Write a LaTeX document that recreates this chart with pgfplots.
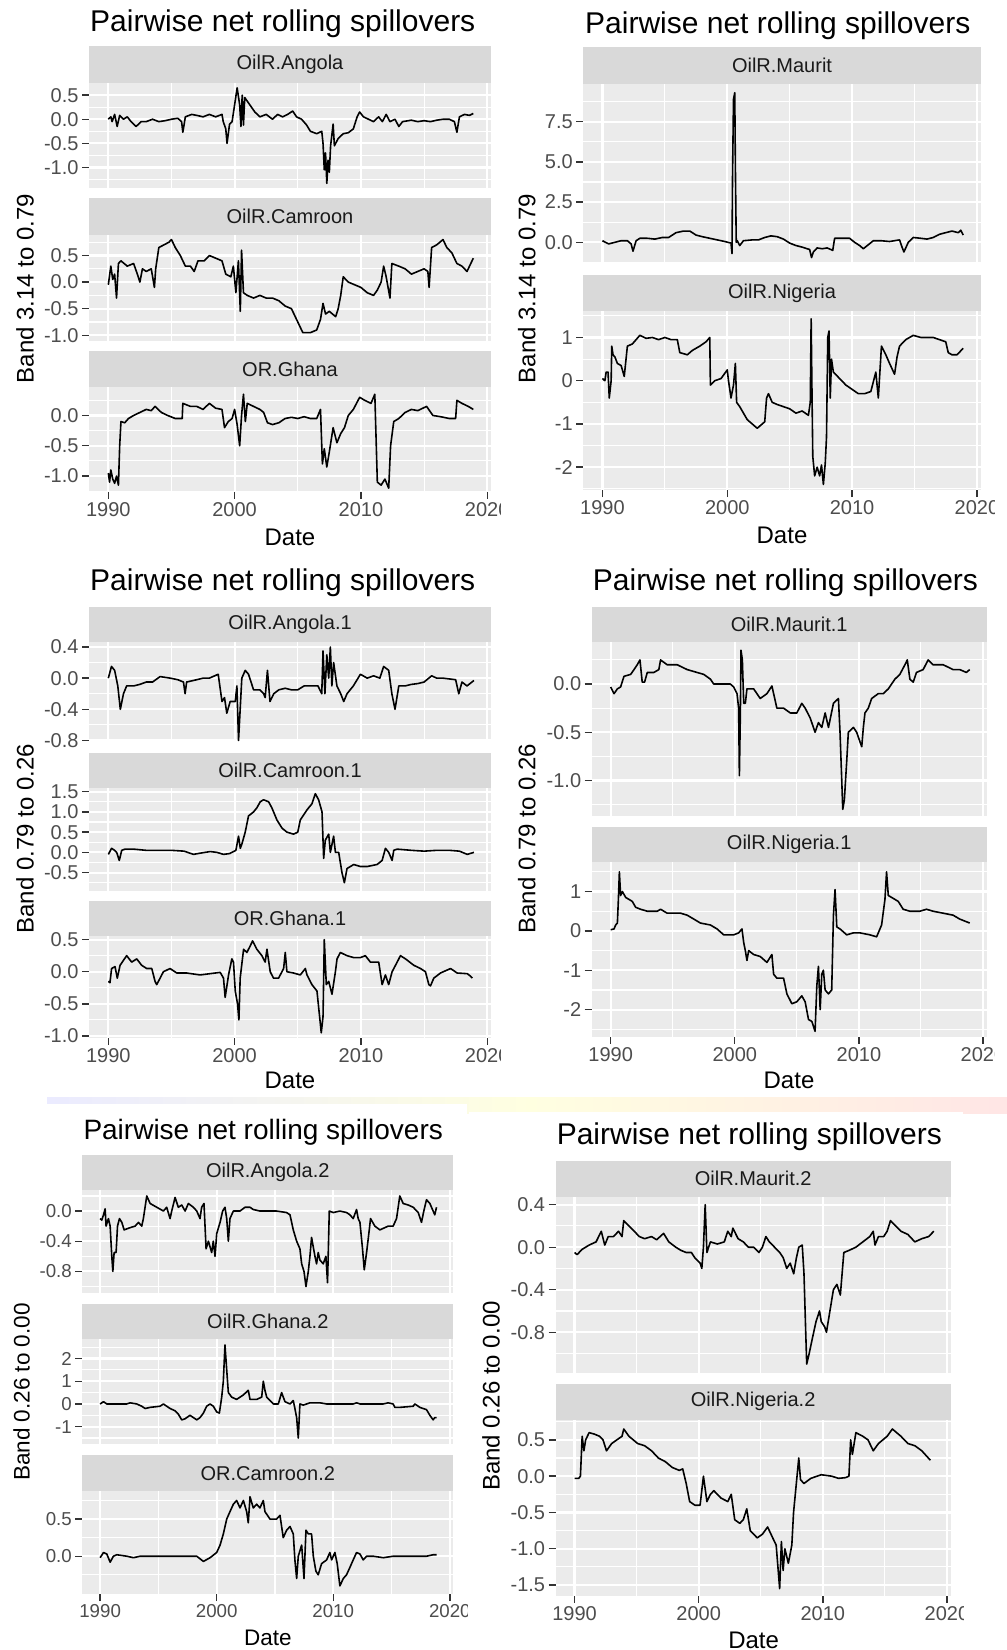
\documentclass[border=0pt]{standalone}
\usepackage{pgfplots}
\pgfplotsset{compat=1.18}
\usetikzlibrary{calc}
\usepackage{fontspec}
\setmainfont{Liberation Sans}

\definecolor{panelbg}{HTML}{EBEBEB}
\definecolor{stripbg}{HTML}{D9D9D9}
\definecolor{stripfg}{HTML}{1A1A1A}
\definecolor{tickgray}{HTML}{4D4D4D}
\definecolor{tickline}{HTML}{333333}

\newcommand{\tickfont}{\fontsize{20}{24}\selectfont}
\newcommand{\stripfont}{\fontsize{20}{24}\selectfont}
\newcommand{\labfont}{\fontsize{24}{28}\selectfont}
\newcommand{\titlefont}{\fontsize{30}{36}\selectfont}
\newcommand{\tickfontE}{\fontsize{18.7}{22}\selectfont}

% grey facet strip with its label
\newcommand{\strip}[5]{%
  \fill[stripbg] (#1pt,-#2pt) rectangle (#3pt,-#4pt);
  \node[font=\stripfont, text=stripfg, inner sep=0pt] at ($(#1pt,-#2pt)!0.5!(#3pt,-#4pt)$) {#5};}

\pgfplotsset{
  facet/.style={
    scale only axis, anchor=south west,
    xmin=1988.47, xmax=2020.3,
    axis background/.style={fill=panelbg},
    axis line style={draw=none},
    grid=both,
    major grid style={draw=white, line width=2.2pt},
    minor grid style={draw=white, line width=1.1pt},
    xtick={1990,2000,2010,2020},
    minor xtick={1995,2005,2015},
    tick align=outside,
    xtick pos=left, ytick pos=left,
    major tick length=7pt, minor tick length=0pt,
    tick style={draw=tickline, line width=1.4pt},
    yticklabel style={font=\tickfont, text=tickgray},
    xticklabel style={font=\tickfont, text=tickgray},
    xticklabels={},
    xtick style={draw=none},
  },
  bottomfacet/.style={
    xticklabels={1990,2000,2010,2020},
    xtick style={draw=tickline, line width=1.4pt},
  },
  ser/.style={black, line width=1.6pt, mark=none, line join=round},
}

\begin{document}
\begin{tikzpicture}
\path[use as bounding box, fill=white] (0pt,0pt) rectangle (1007pt,-1650pt);

% faint backdrop behind the lower screenshots
\shade[left color=blue!8!white, right color=red!10!white, middle color=yellow!12!white]
  (47pt,-1097pt) rectangle (1007pt,-1113pt);
\fill[white] (47pt,-1104pt) rectangle (467pt,-1650pt);
\fill[white] (469pt,-1112pt) rectangle (963pt,-1650pt);

% ---------------- top left ----------------
\begin{scope}
\clip (0pt,0pt) rectangle (500pt,-545pt);
\node[anchor=base west, font=\titlefont, inner sep=0pt] at (90pt,-31pt) {Pairwise net rolling spillovers};
\strip{89}{46}{491}{83.4}{OilR.Angola}
\strip{89}{198}{491}{234.6}{OilR.Camroon}
\strip{89}{351}{491}{387}{OR.Ghana}
\node[rotate=90, font=\labfont, inner sep=0pt] at (25pt,-288.5pt) {Band 3.14 to 0.79};
\node[font=\labfont, inner sep=0pt] at (290pt,-537pt) {Date};

\begin{axis}[facet, at={(89pt,-187.7pt)}, width=402pt, height=104.3pt,
  ymin=-1.42, ymax=0.743, ytick={-1,-0.5,0,0.5}, yticklabels={-1.0,-0.5,0.0,0.5},
  minor ytick={-1.25,-0.75,-0.25,0.25}]
\addplot[ser] coordinates {
(1990.0,0.0) (1990.2,0.05) (1990.3,-0.05) (1990.5,0.1) (1990.7,-0.15) (1990.9,0.08)
(1991.2,0.0) (1991.5,0.05) (1991.8,-0.05) (1992.2,-0.15) (1992.6,-0.05) (1993.0,-0.05)
(1993.5,0.0) (1994.0,-0.05) (1994.5,-0.03) (1995.0,0.0) (1995.5,0.02) (1995.8,-0.05)
(1995.9,-0.27) (1996.1,0.05) (1996.6,0.1) (1997.0,0.08) (1997.5,0.05) (1998.0,0.1)
(1998.5,0.05) (1999.0,0.1) (1999.1,-0.05) (1999.3,-0.2) (1999.4,-0.5) (1999.6,-0.1)
(1999.8,-0.05) (2000.0,0.3) (2000.2,0.65) (2000.4,0.3) (2000.5,-0.15) (2000.6,0.5)
(2000.7,-0.12) (2000.8,0.45) (2001.2,0.3) (2001.6,0.15) (2002.0,0.05) (2002.5,0.1)
(2003.0,0.0) (2003.4,0.1) (2003.8,0.05) (2004.2,0.1) (2004.6,0.17) (2004.9,0.05)
(2005.3,0.0) (2005.7,-0.12) (2006.0,-0.25) (2006.5,-0.3) (2006.9,-0.25) (2007.0,-0.5)
(2007.1,-1.05) (2007.2,-0.7) (2007.3,-1.33) (2007.4,-0.85) (2007.5,-1.1) (2007.6,-0.55)
(2007.8,-0.1) (2007.9,-0.55) (2008.2,-0.4) (2008.6,-0.3) (2009.0,-0.28) (2009.4,-0.2)
(2009.7,0.05) (2009.9,0.15) (2010.2,0.05) (2010.6,0.0) (2011.0,-0.05) (2011.4,0.05)
(2011.7,-0.05) (2012.0,0.1) (2012.3,-0.05) (2012.7,0.0) (2013.0,-0.15) (2013.3,-0.05)
(2014.0,-0.02) (2014.5,-0.05) (2015.0,-0.03) (2015.5,-0.05) (2016.0,-0.02) (2016.5,0.0)
(2017.0,0.0) (2017.4,-0.05) (2017.6,-0.27) (2017.8,0.05) (2018.2,0.1) (2018.6,0.08) (2018.9,0.12)
};
\end{axis}

\begin{axis}[facet, at={(89pt,-340.6pt)}, width=402pt, height=106pt,
  ymin=-1.1, ymax=0.893, ytick={-1,-0.5,0,0.5}, yticklabels={-1.0,-0.5,0.0,0.5},
  minor ytick={-0.75,-0.25,0.25,0.75}]
\addplot[ser] coordinates {
(1990.0,-0.05) (1990.2,0.3) (1990.35,0.05) (1990.5,0.15) (1990.65,-0.3) (1990.8,0.35)
(1991.0,0.4) (1991.5,0.3) (1992.0,0.35) (1992.3,0.15) (1992.5,0.0) (1992.7,0.25)
(1993.0,0.2) (1993.4,0.25) (1993.65,-0.1) (1993.75,0.25) (1994.0,0.65) (1994.4,0.7)
(1994.8,0.75) (1995.0,0.8) (1995.3,0.65) (1995.7,0.5) (1996.1,0.3) (1996.5,0.3)
(1996.8,0.2) (1997.1,0.4) (1997.6,0.4) (1998.0,0.5) (1998.5,0.45) (1999.0,0.4)
(1999.3,0.15) (1999.7,0.1) (1999.9,0.3) (2000.1,-0.2) (2000.3,0.4) (2000.45,-0.55)
(2000.55,0.6) (2000.7,-0.2) (2001.0,-0.25) (2001.5,-0.3) (2002.0,-0.25) (2002.5,-0.3)
(2003.0,-0.3) (2003.5,-0.35) (2004.0,-0.45) (2004.5,-0.5) (2004.8,-0.65) (2005.1,-0.8)
(2005.4,-0.95) (2006.0,-0.95) (2006.5,-0.9) (2006.8,-0.7) (2007.0,-0.4) (2007.2,-0.6)
(2007.5,-0.55) (2008.0,-0.65) (2008.2,-0.5) (2008.4,-0.25) (2008.6,0.1) (2009.0,0.0)
(2009.5,-0.05) (2010.0,-0.1) (2010.5,-0.2) (2011.0,-0.25) (2011.3,-0.15) (2011.6,0.0)
(2011.8,0.3) (2012.0,0.1) (2012.3,-0.3) (2012.45,0.35) (2013.0,0.3) (2013.5,0.25)
(2014.0,0.15) (2014.5,0.2) (2015.0,0.25) (2015.3,0.2) (2015.4,-0.1) (2015.6,0.65)
(2016.0,0.7) (2016.5,0.8) (2016.8,0.65) (2017.2,0.55) (2017.6,0.35) (2018.0,0.3)
(2018.4,0.2) (2018.9,0.45)
};
\end{axis}

\begin{axis}[facet, bottomfacet, at={(89pt,-491.8pt)}, width=402pt, height=104.8pt,
  ymin=-1.26, ymax=0.47, ytick={-1,-0.5,0}, yticklabels={-1.0,-0.5,0.0},
  minor ytick={-1.25,-0.75,-0.25,0.25}]
\addplot[ser] coordinates {
(1990.0,-0.95) (1990.1,-1.1) (1990.2,-0.9) (1990.35,-1.05) (1990.5,-1.12) (1990.65,-1.0)
(1990.8,-1.15) (1990.9,-0.5) (1991.0,-0.1) (1991.3,-0.12) (1991.6,-0.05) (1992.0,0.0)
(1992.5,0.05) (1993.0,0.1) (1993.4,0.08) (1993.7,0.15) (1994.2,0.05) (1994.7,0.0)
(1995.3,-0.05) (1995.85,-0.05) (1995.9,0.2) (1996.5,0.15) (1997.0,0.15) (1997.5,0.1)
(1998.0,0.2) (1998.5,0.12) (1999.0,0.1) (1999.2,-0.2) (1999.5,-0.1) (1999.8,-0.05)
(2000.0,0.1) (2000.2,-0.15) (2000.4,-0.5) (2000.55,0.0) (2000.7,0.35) (2000.85,-0.1)
(2001.0,0.2) (2001.5,0.15) (2002.0,0.1) (2002.3,0.05) (2002.6,-0.12) (2003.0,-0.15)
(2003.5,-0.12) (2004.0,-0.05) (2004.5,-0.03) (2005.0,-0.05) (2005.5,-0.02) (2006.0,-0.05)
(2006.5,-0.05) (2006.8,0.1) (2006.95,-0.8) (2007.1,-0.55) (2007.3,-0.85) (2007.5,-0.6)
(2007.8,-0.2) (2008.1,-0.45) (2008.4,-0.3) (2008.7,-0.2) (2009.0,0.0) (2009.4,0.1)
(2009.9,0.3) (2010.3,0.25) (2010.8,0.2) (2011.1,0.35) (2011.3,-1.1) (2011.6,-1.15)
(2011.9,-1.05) (2012.2,-1.2) (2012.35,-0.5) (2012.6,-0.1) (2013.0,-0.05) (2013.5,0.05)
(2014.0,0.1) (2014.5,0.08) (2015.2,0.15) (2015.7,0.0) (2016.3,-0.02) (2017.0,-0.05)
(2017.5,-0.05) (2017.6,0.25) (2018.0,0.2) (2018.5,0.15) (2018.9,0.1)
};
\end{axis}
\end{scope}

% ---------------- top right ----------------
\begin{scope}
\clip (500pt,0pt) rectangle (994pt,-545pt);
\node[anchor=base west, font=\titlefont, inner sep=0pt] at (585pt,-33pt) {Pairwise net rolling spillovers};
\strip{583.3}{46.9}{980.7}{84.1}{OilR.Maurit}
\strip{583.3}{274.6}{980.7}{311.1}{OilR.Nigeria}
\node[rotate=90, font=\labfont, inner sep=0pt] at (526.7pt,-288.5pt) {Band 3.14 to 0.79};
\node[font=\labfont, inner sep=0pt] at (782pt,-535pt) {Date};

\begin{axis}[facet, at={(583.3pt,-262.4pt)}, width=397.4pt, height=178.3pt,
  ymin=-1.25, ymax=9.84, ytick={0,2.5,5,7.5}, yticklabels={0.0,2.5,5.0,7.5},
  minor ytick={1.25,3.75,6.25,8.75}]
\addplot[ser] coordinates {
(1990.0,0.1) (1990.5,-0.1) (1991.0,0.0) (1991.5,0.1) (1992.0,0.1) (1992.3,-0.1)
(1992.45,-0.55) (1992.7,0.1) (1993.0,0.25) (1993.6,0.25) (1994.2,0.2) (1994.8,0.3)
(1995.3,0.3) (1995.9,0.6) (1996.5,0.7) (1997.0,0.7) (1997.5,0.45) (1998.0,0.35)
(1998.6,0.25) (1999.2,0.15) (1999.8,0.05) (2000.3,-0.05) (2000.38,-0.7) (2000.42,3.9)
(2000.5,8.9) (2000.6,9.3) (2000.66,4.0) (2000.72,0.0) (2000.8,0.1) (2001.0,-0.2)
(2001.3,0.1) (2002.0,0.15) (2002.5,0.15) (2003.0,0.3) (2003.5,0.4) (2004.0,0.35)
(2004.5,0.2) (2005.0,-0.05) (2005.5,-0.2) (2006.0,-0.3) (2006.6,-0.45) (2006.75,-0.95)
(2006.9,-0.6) (2007.2,-0.35) (2007.6,-0.4) (2008.0,-0.35) (2008.45,-0.5) (2008.6,0.25)
(2009.2,0.25) (2009.8,0.25) (2010.2,0.0) (2010.6,-0.2) (2010.9,-0.4) (2011.3,-0.15)
(2011.7,0.1) (2012.3,0.1) (2013.0,0.05) (2013.8,0.15) (2014.0,-0.3) (2014.15,-0.6)
(2014.5,0.0) (2014.9,0.3) (2015.5,0.25) (2016.0,0.2) (2016.5,0.3) (2017.0,0.5)
(2017.5,0.6) (2018.0,0.7) (2018.5,0.6) (2018.7,0.75) (2018.9,0.45)
};
\end{axis}

\begin{axis}[facet, bottomfacet, at={(583.3pt,-490.1pt)}, width=397.4pt, height=179pt,
  ymin=-2.53, ymax=1.61, ytick={-2,-1,0,1}, yticklabels={-2,-1,0,1},
  minor ytick={-2.5,-1.5,-0.5,0.5,1.5}]
\addplot[ser] coordinates {
(1990.0,0.05) (1990.2,0.0) (1990.3,0.2) (1990.45,0.2) (1990.55,-0.4) (1990.7,0.0)
(1990.75,0.8) (1990.85,0.6) (1991.0,0.55) (1991.2,0.4) (1991.5,0.35) (1991.75,0.1)
(1992.0,0.8) (1992.4,0.85) (1992.7,0.95) (1993.0,1.05) (1993.5,0.98) (1994.0,1.0)
(1994.5,0.95) (1995.0,1.0) (1995.5,0.95) (1996.0,0.95) (1996.2,0.65) (1996.8,0.6)
(1997.2,0.7) (1997.8,0.8) (1998.3,0.9) (1998.6,1.0) (1998.65,-0.1) (1999.0,0.0)
(1999.5,0.05) (2000.0,0.25) (2000.1,0.0) (2000.3,-0.4) (2000.5,-0.1) (2000.65,0.4)
(2000.75,-0.5) (2001.0,-0.6) (2001.3,-0.75) (2001.6,-0.9) (2002.0,-1.0) (2002.4,-1.1)
(2002.8,-1.0) (2003.0,-0.95) (2003.15,-0.4) (2003.3,-0.3) (2003.6,-0.5) (2004.0,-0.55)
(2004.5,-0.6) (2005.0,-0.65) (2005.5,-0.75) (2006.0,-0.7) (2006.5,-0.8) (2006.65,-0.5)
(2006.72,1.43) (2006.78,-0.1) (2006.85,-1.75) (2007.0,-2.2) (2007.2,-2.0) (2007.4,-2.2)
(2007.55,-1.95) (2007.7,-2.4) (2007.85,-1.9) (2007.95,-1.3) (2008.05,1.0) (2008.15,1.15)
(2008.25,-0.4) (2008.35,0.5) (2008.5,0.2) (2009.0,0.05) (2009.5,-0.1) (2010.0,-0.2)
(2010.5,-0.3) (2011.0,-0.3) (2011.5,-0.25) (2011.9,0.2) (2012.1,-0.4) (2012.35,0.8)
(2012.7,0.6) (2013.0,0.4) (2013.4,0.15) (2013.6,0.55) (2013.8,0.8) (2014.3,0.95)
(2014.9,1.05) (2015.5,1.0) (2016.0,1.0) (2016.5,1.0) (2017.0,0.95) (2017.5,0.9)
(2017.7,0.65) (2018.0,0.6) (2018.4,0.6) (2018.9,0.75)
};
\end{axis}
\end{scope}

% ---------------- middle left ----------------
\begin{scope}
\clip (0pt,-545pt) rectangle (500pt,-1095pt);
\node[anchor=base west, font=\titlefont, inner sep=0pt] at (90pt,-590pt) {Pairwise net rolling spillovers};
\strip{89}{606.9}{491}{641.6}{OilR.Angola.1}
\strip{89}{752.5}{491}{787.6}{OilR.Camroon.1}
\strip{89}{901.3}{491}{936}{OR.Ghana.1}
\node[rotate=90, font=\labfont, inner sep=0pt] at (25pt,-838.7pt) {Band 0.79 to 0.26};
\node[font=\labfont, inner sep=0pt] at (290pt,-1080pt) {Date};

\begin{axis}[facet, at={(89pt,-742.4pt)}, width=402pt, height=100.8pt,
  ymin=-0.825, ymax=0.469, ytick={-0.8,-0.4,0,0.4}, yticklabels={-0.8,-0.4,0.0,0.4},
  minor ytick={-0.6,-0.2,0.2}]
\addplot[ser] coordinates {
(1990.0,0.0) (1990.25,0.15) (1990.5,0.1) (1990.75,-0.1) (1990.95,-0.4) (1991.2,-0.2)
(1991.45,-0.1) (1992.0,-0.1) (1992.5,-0.08) (1993.0,-0.05) (1993.5,-0.05) (1994.1,0.02)
(1994.9,0.0) (1995.5,-0.02) (1995.95,-0.05) (1996.08,-0.2) (1996.2,-0.05) (1997.0,-0.02)
(1997.5,0.0) (1998.0,0.0) (1998.7,0.05) (1999.0,-0.3) (1999.2,-0.25) (1999.38,-0.45)
(1999.65,-0.3) (2000.05,-0.3) (2000.18,-0.1) (2000.31,-0.8) (2000.44,-0.4) (2000.57,0.0)
(2000.84,0.1) (2001.1,0.05) (2001.5,-0.15) (2002.0,-0.15) (2002.3,-0.2) (2002.42,-0.25)
(2002.6,0.1) (2002.8,-0.3) (2003.1,-0.2) (2003.5,-0.15) (2004.0,-0.13) (2004.5,-0.15)
(2005.0,-0.15) (2005.5,-0.1) (2006.0,-0.1) (2006.6,-0.1) (2006.9,-0.2) (2007.0,0.35)
(2007.15,-0.2) (2007.3,0.3) (2007.45,0.0) (2007.58,0.4) (2007.7,-0.1) (2007.84,0.2)
(2008.1,-0.1) (2008.4,-0.2) (2008.64,-0.3) (2008.9,-0.2) (2009.4,-0.1) (2009.96,0.05)
(2010.5,0.0) (2011.0,0.03) (2011.5,0.0) (2011.8,0.15) (2012.2,0.1) (2012.45,-0.2)
(2012.7,-0.4) (2013.0,-0.1) (2013.5,-0.1) (2014.0,-0.08) (2014.5,-0.07) (2015.0,-0.05)
(2015.6,0.03) (2016.0,0.0) (2016.5,0.0) (2017.0,-0.01) (2017.5,-0.02) (2017.75,-0.2)
(2018.0,-0.05) (2018.4,-0.1) (2018.95,-0.03)
};
\end{axis}

\begin{axis}[facet, at={(89pt,-890.8pt)}, width=402pt, height=103.2pt,
  ymin=-0.95, ymax=1.6, ytick={-0.5,0,0.5,1,1.5}, yticklabels={-0.5,0.0,0.5,1.0,1.5},
  minor ytick={-0.75,-0.25,0.25,0.75,1.25}]
\addplot[ser] coordinates {
(1990.0,-0.05) (1990.26,0.1) (1990.5,0.05) (1990.66,0.0) (1990.87,-0.2) (1991.06,0.05)
(1991.32,0.08) (1992.0,0.08) (1993.0,0.05) (1994.0,0.05) (1995.0,0.05) (1996.0,0.03)
(1996.74,-0.05) (1997.27,-0.02) (1998.06,0.02) (1998.6,0.0) (1999.12,-0.05) (1999.6,-0.03)
(2000.1,0.05) (2000.31,0.4) (2000.45,0.1) (2000.57,0.2) (2000.84,0.5) (2001.1,0.9)
(2001.5,1.0) (2001.76,1.1) (2002.03,1.25) (2002.29,1.3) (2002.69,1.25) (2002.95,1.1)
(2003.35,0.8) (2003.75,0.6) (2004.14,0.5) (2004.67,0.45) (2005.0,0.5) (2005.2,0.8)
(2005.73,1.05) (2006.12,1.2) (2006.39,1.45) (2006.65,1.3) (2006.92,1.0) (2007.05,-0.15)
(2007.18,0.3) (2007.45,0.45) (2007.58,0.0) (2007.84,0.4) (2007.98,0.0) (2008.24,0.0)
(2008.5,-0.5) (2008.69,-0.75) (2008.9,-0.4) (2009.43,-0.3) (2009.96,-0.35) (2010.49,-0.35)
(2011.28,-0.3) (2011.68,-0.2) (2011.94,0.1) (2012.2,0.0) (2012.47,-0.2) (2012.6,0.05)
(2012.87,0.08) (2014.0,0.05) (2015.0,0.03) (2016.0,0.05) (2017.0,0.05) (2017.8,0.03)
(2018.42,-0.05) (2018.95,0.0)
};
\end{axis}

\begin{axis}[facet, bottomfacet, at={(89pt,-1037.9pt)}, width=402pt, height=101.9pt,
  ymin=-1.03, ymax=0.556, ytick={-1,-0.5,0,0.5}, yticklabels={-1.0,-0.5,0.0,0.5},
  minor ytick={-0.75,-0.25,0.25}]
\addplot[ser] coordinates {
(1990.0,-0.15) (1990.13,-0.17) (1990.26,0.05) (1990.53,0.08) (1990.71,-0.1) (1990.93,0.1)
(1991.45,0.25) (1991.85,0.15) (1992.25,0.2) (1992.64,0.1) (1993.04,0.05) (1993.44,0.05)
(1993.7,-0.15) (1993.83,-0.2) (1994.1,-0.1) (1994.36,0.0) (1994.89,0.05) (1995.42,-0.02)
(1996.21,-0.02) (1997.27,-0.05) (1998.06,-0.03) (1998.86,-0.01) (1999.12,-0.1) (1999.25,-0.4)
(1999.52,-0.05) (1999.78,0.2) (1999.91,0.15) (2000.05,-0.3) (2000.23,-0.5) (2000.34,-0.75)
(2000.44,-0.1) (2000.71,0.35) (2000.97,0.3) (2001.23,0.4) (2001.42,0.48) (2001.76,0.35)
(2002.16,0.25) (2002.42,0.15) (2002.56,0.35) (2002.82,0.0) (2003.08,-0.1) (2003.48,-0.1)
(2003.88,0.05) (2004.01,0.3) (2004.14,0.0) (2004.67,-0.02) (2005.2,-0.05) (2005.6,0.05)
(2005.73,-0.05) (2006.12,-0.2) (2006.52,-0.3) (2006.73,-0.7) (2006.86,-0.95) (2007.0,-0.7)
(2007.1,0.5) (2007.26,-0.2) (2007.45,-0.15) (2007.71,-0.35) (2007.98,0.0) (2008.11,0.2)
(2008.37,0.3) (2008.9,0.25) (2009.43,0.22) (2009.96,0.22) (2010.35,0.25) (2010.75,0.15)
(2011.41,0.15) (2011.68,-0.2) (2011.94,-0.05) (2012.2,-0.2) (2012.47,0.0) (2012.87,0.15)
(2013.13,0.25) (2013.53,0.2) (2014.19,0.1) (2014.72,0.05) (2015.11,0.0) (2015.38,-0.2)
(2015.51,-0.22) (2015.77,-0.1) (2016.3,-0.02) (2017.1,0.05) (2017.62,-0.02) (2018.42,-0.03)
(2018.68,-0.07) (2018.82,-0.1)
};
\end{axis}
\end{scope}

% ---------------- middle right ----------------
\begin{scope}
\clip (500pt,-545pt) rectangle (994pt,-1095pt);
\node[anchor=base west, font=\titlefont, inner sep=0pt] at (592.7pt,-590pt) {Pairwise net rolling spillovers};
\strip{591.7}{606.9}{986.7}{641.6}{OilR.Maurit.1}
\strip{591.7}{827.2}{986.7}{862}{OilR.Nigeria.1}
\node[rotate=90, font=\labfont, inner sep=0pt] at (526.7pt,-838.7pt) {Band 0.79 to 0.26};
\node[font=\labfont, inner sep=0pt] at (789pt,-1080pt) {Date};

\begin{axis}[facet, at={(591.7pt,-816.1pt)}, width=395pt, height=174.5pt,
  ymin=-1.37, ymax=0.44, ytick={-1,-0.5,0}, yticklabels={-1.0,-0.5,0.0},
  minor ytick={-1.25,-0.75,-0.25,0.25}]
\addplot[ser] coordinates {
(1990.0,-0.03) (1990.27,-0.1) (1990.54,-0.05) (1990.8,-0.03) (1991.07,0.08) (1991.61,0.1)
(1991.88,0.15) (1992.14,0.2) (1992.36,0.25) (1992.54,0.02) (1992.73,0.02) (1992.95,0.12)
(1993.48,0.12) (1993.88,0.15) (1994.02,0.25) (1994.55,0.2) (1995.36,0.2) (1996.16,0.15)
(1996.96,0.12) (1997.5,0.1) (1998.04,0.05) (1998.3,0.0) (1998.84,0.0) (1999.64,0.0)
(1999.91,-0.03) (2000.18,-0.1) (2000.31,-0.25) (2000.37,-0.95) (2000.45,-0.3) (2000.5,0.35)
(2000.61,0.25) (2000.72,-0.2) (2000.85,-0.2) (2000.98,-0.05) (2001.52,-0.05) (2002.05,-0.15)
(2002.59,-0.1) (2002.99,-0.02) (2003.13,-0.1) (2003.39,-0.25) (2003.93,-0.25) (2004.47,-0.3)
(2005.0,-0.3) (2005.4,-0.2) (2005.67,-0.25) (2006.07,-0.35) (2006.47,-0.5) (2006.74,-0.4)
(2007.01,-0.45) (2007.28,-0.3) (2007.55,-0.45) (2007.95,-0.2) (2008.35,-0.15) (2008.48,-0.5)
(2008.62,-1.0) (2008.7,-1.3) (2008.83,-1.2) (2009.02,-0.8) (2009.15,-0.5) (2009.56,-0.45)
(2009.82,-0.5) (2010.09,-0.6) (2010.23,-0.65) (2010.36,-0.45) (2010.49,-0.3) (2010.76,-0.25)
(2011.03,-0.15) (2011.56,-0.1) (2011.97,-0.1) (2012.37,-0.05) (2012.9,0.05) (2013.3,0.1)
(2013.71,0.2) (2013.9,0.25) (2014.11,0.05) (2014.38,0.02) (2014.64,0.12) (2015.18,0.15)
(2015.58,0.25) (2015.98,0.2) (2016.79,0.2) (2017.59,0.15) (2018.13,0.15) (2018.66,0.12)
(2018.93,0.15)
};
\end{axis}

\begin{axis}[facet, bottomfacet, at={(591.7pt,-1036.8pt)}, width=395pt, height=174.8pt,
  ymin=-2.69, ymax=1.75, ytick={-2,-1,0,1}, yticklabels={-2,-1,0,1},
  minor ytick={-2.5,-1.5,-0.5,0.5,1.5}]
\addplot[ser] coordinates {
(1990.0,0.03) (1990.27,0.05) (1990.4,0.15) (1990.54,0.2) (1990.62,0.8) (1990.7,1.5)
(1990.8,0.9) (1990.94,1.0) (1991.21,0.85) (1991.74,0.75) (1992.01,0.6) (1992.41,0.55)
(1992.95,0.5) (1993.75,0.5) (1994.02,0.55) (1994.55,0.45) (1995.63,0.45) (1996.16,0.4)
(1996.7,0.3) (1997.23,0.2) (1998.04,0.15) (1998.57,0.05) (1999.11,-0.1) (1999.91,-0.1)
(2000.31,-0.05) (2000.58,0.05) (2000.72,-0.3) (2000.85,-0.5) (2000.98,-0.75) (2001.12,-0.5)
(2001.52,-0.6) (2002.05,-0.65) (2002.59,-0.8) (2002.99,-0.6) (2003.13,-1.1) (2003.39,-1.2)
(2003.93,-1.2) (2004.2,-1.6) (2004.6,-1.85) (2005.0,-1.8) (2005.4,-1.65) (2005.67,-1.8)
(2005.94,-2.25) (2006.21,-2.3) (2006.47,-2.55) (2006.61,-1.4) (2006.74,-0.9) (2006.88,-2.0)
(2007.01,-1.1) (2007.14,-1.0) (2007.28,-1.5) (2007.55,-1.6) (2007.81,-1.5) (2007.95,0.4)
(2008.08,1.05) (2008.22,0.1) (2008.48,0.05) (2009.02,-0.1) (2009.56,-0.05) (2010.09,-0.05)
(2010.89,-0.1) (2011.43,-0.15) (2011.83,0.15) (2012.1,0.8) (2012.23,1.5) (2012.37,0.9)
(2012.64,0.85) (2013.17,0.75) (2013.57,0.55) (2014.11,0.5) (2014.91,0.5) (2015.45,0.55)
(2015.98,0.5) (2016.79,0.45) (2017.59,0.4) (2018.13,0.3) (2018.93,0.2)
};
\end{axis}
\end{scope}

% ---------------- bottom left ----------------
\begin{scope}
\clip (0pt,-1095pt) rectangle (467pt,-1650pt);
\node[anchor=base west, font=\fontsize{28}{34}\selectfont, inner sep=0pt] at (83.3pt,-1139pt) {Pairwise net rolling spillovers};
\strip{82.3}{1154.5}{453.3}{1189.9}{OilR.Angola.2}
\strip{82.3}{1303.8}{453.3}{1339.2}{OilR.Ghana.2}
\strip{82.3}{1455.4}{453.3}{1490.8}{OR.Camroon.2}
\node[rotate=90, font=\fontsize{22.5}{27}\selectfont, inner sep=0pt] at (21.7pt,-1392pt) {Band 0.26 to 0.00};
\node[font=\fontsize{22.5}{27}\selectfont, inner sep=0pt] at (268pt,-1638pt) {Date};

\begin{axis}[facet, at={(82.3pt,-1292.5pt)}, width=371pt, height=102.6pt,
  yticklabel style={font=\tickfontE},
  ymin=-1.08, ymax=0.28, ytick={-0.8,-0.4,0}, yticklabels={-0.8,-0.4,0.0},
  minor ytick={-1.0,-0.6,-0.2,0.2}]
\addplot[ser] coordinates {
(1990.0,-0.1) (1990.14,-0.12) (1990.29,-0.05) (1990.43,0.03) (1990.51,-0.2) (1990.71,-0.1)
(1990.86,-0.2) (1991.0,-0.6) (1991.09,-0.8) (1991.2,-0.55) (1991.37,-0.55) (1991.49,-0.2)
(1991.66,-0.1) (1991.86,-0.15) (1992.06,-0.25) (1992.57,-0.22) (1993.0,-0.2) (1993.29,-0.15)
(1993.57,-0.2) (1993.71,-0.1) (1994.0,0.2) (1994.29,0.1) (1994.86,0.05) (1995.43,0.0)
(1995.71,0.05) (1996.0,-0.1) (1996.14,0.0) (1996.43,0.18) (1996.71,0.05) (1997.0,0.08)
(1997.29,0.0) (1997.57,0.1) (1998.0,0.05) (1998.29,0.0) (1998.57,-0.1) (1998.71,0.05)
(1998.91,0.1) (1999.09,-0.5) (1999.29,-0.4) (1999.57,-0.55) (1999.71,-0.4) (1999.86,-0.6)
(2000.0,-0.3) (2000.29,-0.15) (2000.51,0.0) (2000.71,0.05) (2000.86,-0.1) (2001.0,-0.4)
(2001.14,-0.1) (2001.43,0.0) (2002.0,0.0) (2002.43,0.05) (2002.86,0.05) (2003.14,0.02)
(2003.71,0.0) (2004.29,0.0) (2005.14,0.0) (2006.0,-0.02) (2006.29,-0.05) (2006.57,-0.25)
(2006.86,-0.4) (2007.14,-0.5) (2007.29,-0.7) (2007.49,-0.8) (2007.66,-1.0) (2007.86,-0.8)
(2008.0,-0.6) (2008.14,-0.35) (2008.43,-0.6) (2008.57,-0.7) (2008.71,-0.55) (2008.86,-0.65)
(2009.14,-0.7) (2009.37,-0.6) (2009.51,-0.95) (2009.66,0.0) (2010.0,-0.02) (2010.57,0.0)
(2011.14,-0.02) (2011.43,-0.05) (2011.71,-0.1) (2012.0,0.02) (2012.14,-0.1) (2012.29,-0.15)
(2012.51,-0.5) (2012.66,-0.78) (2012.86,-0.55) (2013.09,-0.25) (2013.2,-0.1) (2013.57,-0.2)
(2014.0,-0.25) (2014.71,-0.2) (2015.14,-0.2) (2015.43,-0.1) (2015.71,0.2) (2016.0,0.1)
(2016.43,0.08) (2016.86,0.05) (2017.29,-0.02) (2017.57,-0.15) (2017.77,0.0) (2018.0,0.15)
(2018.29,0.1) (2018.57,0.0) (2018.71,-0.05) (2018.86,0.05)
};
\end{axis}

\begin{axis}[facet, at={(82.3pt,-1443.7pt)}, width=371pt, height=104.5pt,
  yticklabel style={font=\tickfontE},
  ymin=-1.75, ymax=2.85, ytick={-1,0,1,2}, yticklabels={-1,0,1,2},
  minor ytick={-1.5,-0.5,0.5,1.5,2.5}]
\addplot[ser] coordinates {
(1990.0,0.0) (1990.29,0.1) (1990.57,0.0) (1991.14,0.0) (1992.29,0.0) (1992.57,0.05)
(1993.14,0.0) (1993.57,-0.1) (1993.86,-0.2) (1994.29,-0.15) (1995.14,-0.1) (1995.43,0.0)
(1995.71,-0.1) (1996.0,-0.2) (1996.43,-0.3) (1996.71,-0.45) (1997.0,-0.7) (1997.29,-0.65)
(1997.71,-0.5) (1998.0,-0.6) (1998.29,-0.7) (1998.57,-0.6) (1998.86,-0.4) (1999.14,-0.1)
(1999.43,0.0) (1999.71,-0.1) (2000.0,-0.35) (2000.23,-0.4) (2000.43,0.3) (2000.57,1.0)
(2000.71,2.6) (2000.86,1.5) (2001.0,0.5) (2001.29,0.3) (2001.71,0.2) (2002.29,0.4)
(2002.71,0.6) (2002.86,0.2) (2003.43,0.2) (2003.86,0.3) (2004.0,1.0) (2004.14,0.6)
(2004.29,0.3) (2004.86,0.0) (2005.29,0.0) (2005.57,0.5) (2005.86,0.1) (2006.29,0.0)
(2006.57,0.15) (2006.71,-0.2) (2006.86,-0.6) (2007.0,-1.5) (2007.14,0.0) (2007.43,-0.05)
(2008.0,0.05) (2008.86,0.05) (2009.43,0.0) (2011.71,0.0) (2012.0,0.05) (2012.29,0.0)
(2014.29,0.0) (2014.71,0.05) (2015.14,0.0) (2015.29,-0.15) (2015.71,-0.15) (2016.86,-0.1)
(2017.0,0.0) (2017.43,-0.15) (2018.0,-0.25) (2018.29,-0.5) (2018.57,-0.7) (2018.71,-0.6)
(2018.86,-0.6)
};
\end{axis}

\begin{axis}[facet, bottomfacet, at={(82.3pt,-1594.1pt)}, width=371pt, height=103.3pt,
  yticklabel style={font=\tickfontE}, xticklabel style={font=\tickfontE},
  ymin=-0.51, ymax=0.88, ytick={0,0.5}, yticklabels={0.0,0.5},
  minor ytick={-0.25,0.25,0.75}]
\addplot[ser] coordinates {
(1990.0,-0.02) (1990.29,0.05) (1990.57,0.03) (1990.86,-0.08) (1991.14,0.0) (1991.43,0.02)
(1992.29,0.0) (1992.86,-0.02) (1993.43,0.0) (1994.0,0.0) (1994.86,0.0) (1996.29,0.0)
(1997.43,0.0) (1998.29,0.0) (1998.86,-0.07) (1999.43,-0.02) (2000.0,0.05) (2000.29,0.15)
(2000.57,0.3) (2000.86,0.5) (2001.14,0.6) (2001.43,0.7) (2001.71,0.75) (2002.0,0.65)
(2002.29,0.75) (2002.57,0.6) (2002.71,0.45) (2002.86,0.8) (2003.14,0.65) (2003.43,0.7)
(2003.71,0.65) (2004.0,0.75) (2004.14,0.6) (2004.57,0.5) (2005.14,0.5) (2005.43,0.55)
(2005.71,0.25) (2006.0,0.35) (2006.29,0.4) (2006.57,0.3) (2006.71,-0.05) (2006.86,-0.3)
(2007.0,0.0) (2007.29,0.15) (2007.49,-0.3) (2007.66,0.35) (2007.86,0.3) (2008.14,0.3)
(2008.29,0.0) (2008.51,-0.2) (2008.71,-0.25) (2009.0,-0.1) (2009.43,-0.05) (2009.71,0.05)
(2009.86,-0.05) (2010.14,0.05) (2010.34,-0.1) (2010.57,-0.4) (2010.86,-0.3) (2011.14,-0.25)
(2011.43,-0.15) (2011.71,-0.05) (2012.0,0.05) (2012.29,0.03) (2012.57,-0.05) (2012.86,0.0)
(2013.43,0.0) (2014.29,-0.02) (2015.14,0.0) (2015.71,0.0) (2016.86,0.0) (2018.0,0.0)
(2018.57,0.02) (2018.86,0.02)
};
\end{axis}
\end{scope}

% ---------------- bottom right ----------------
\begin{scope}
\clip (467pt,-1095pt) rectangle (963pt,-1650pt);
\node[anchor=base west, font=\titlefont, inner sep=0pt] at (556.6pt,-1144.6pt) {Pairwise net rolling spillovers};
\strip{555.6}{1160.5}{950.7}{1196.6}{OilR.Maurit.2}
\strip{555.6}{1383.5}{950.7}{1420}{OilR.Nigeria.2}
\node[rotate=90, font=\labfont, inner sep=0pt] at (491pt,-1396pt) {Band 0.26 to 0.00};
\node[font=\labfont, inner sep=0pt] at (753.6pt,-1640pt) {Date};

\begin{axis}[facet, at={(555.6pt,-1372.9pt)}, width=395.1pt, height=176.3pt,
  ymin=-1.183, ymax=0.476, ytick={-0.8,-0.4,0,0.4}, yticklabels={-0.8,-0.4,0.0,0.4},
  minor ytick={-1.0,-0.6,-0.2,0.2}]
\addplot[ser] coordinates {
(1990.0,-0.05) (1990.2,-0.07) (1990.61,-0.02) (1991.17,0.02) (1991.73,0.05) (1992.15,0.15)
(1992.43,0.02) (1992.71,0.1) (1993.13,0.1) (1993.54,0.15) (1993.82,0.1) (1993.96,0.25)
(1994.38,0.2) (1994.8,0.15) (1995.22,0.1) (1995.64,0.08) (1996.2,0.1) (1996.61,0.07)
(1997.17,0.13) (1997.59,0.05) (1998.15,0.0) (1998.57,-0.03) (1998.99,-0.05) (1999.41,-0.05)
(1999.69,-0.1) (2000.11,-0.15) (2000.25,-0.2) (2000.38,0.0) (2000.52,0.4) (2000.66,-0.05)
(2000.94,0.05) (2001.5,0.03) (2002.06,0.05) (2002.34,0.15) (2002.62,0.1) (2002.75,0.18)
(2003.17,0.08) (2003.59,0.05) (2004.01,0.0) (2004.43,0.0) (2004.85,-0.05) (2005.13,0.0)
(2005.41,0.1) (2005.69,0.05) (2006.11,0.0) (2006.53,-0.05) (2006.81,-0.1) (2007.09,-0.2)
(2007.37,-0.15) (2007.65,-0.25) (2007.87,-0.1) (2008.06,0.0) (2008.34,0.02) (2008.48,-0.25)
(2008.62,-0.8) (2008.7,-1.1) (2008.9,-1.0) (2009.17,-0.85) (2009.45,-0.7) (2009.73,-0.6)
(2009.87,-0.7) (2010.15,-0.75) (2010.29,-0.8) (2010.57,-0.6) (2010.85,-0.4) (2011.13,-0.35)
(2011.41,-0.45) (2011.55,-0.25) (2011.69,-0.05) (2012.11,-0.03) (2012.66,0.0) (2013.22,0.05)
(2013.78,0.1) (2014.06,0.15) (2014.2,0.02) (2014.48,0.1) (2014.9,0.1) (2015.18,0.15)
(2015.45,0.25) (2015.87,0.2) (2016.29,0.15) (2016.85,0.12) (2017.41,0.05) (2017.97,0.08)
(2018.52,0.1) (2018.94,0.15)
};
\end{axis}

\begin{axis}[facet, bottomfacet, at={(555.6pt,-1595.9pt)}, width=395.1pt, height=175.9pt,
  ymin=-1.65, ymax=0.774, ytick={-1.5,-1,-0.5,0,0.5}, yticklabels={-1.5,-1.0,-0.5,0.0,0.5},
  minor ytick={-1.25,-0.75,-0.25,0.25,0.75}]
\addplot[ser] coordinates {
(1990.0,-0.03) (1990.33,-0.03) (1990.47,0.0) (1990.61,0.55) (1990.75,0.35) (1990.89,0.5)
(1991.17,0.6) (1991.59,0.58) (1992.01,0.55) (1992.29,0.5) (1992.57,0.35) (1992.99,0.45)
(1993.4,0.5) (1993.82,0.55) (1993.96,0.65) (1994.38,0.55) (1995.08,0.45) (1995.64,0.42)
(1996.2,0.35) (1996.75,0.25) (1997.31,0.2) (1997.87,0.12) (1998.43,0.08) (1998.71,0.1)
(1998.99,-0.1) (1999.27,-0.35) (1999.69,-0.4) (2000.11,-0.4) (2000.38,0.0) (2000.66,-0.35)
(2000.94,-0.25) (2001.22,-0.2) (2001.78,-0.3) (2002.34,-0.35) (2002.62,-0.25) (2002.9,-0.6)
(2003.31,-0.65) (2003.59,-0.6) (2003.87,-0.45) (2004.15,-0.75) (2004.71,-0.85) (2005.13,-0.8)
(2005.55,-0.7) (2005.96,-0.85) (2006.24,-0.95) (2006.38,-1.25) (2006.52,-1.55) (2006.66,-0.9)
(2006.8,-1.3) (2006.94,-1.0) (2007.22,-1.2) (2007.5,-0.95) (2007.64,-0.5) (2007.92,0.0)
(2008.06,0.25) (2008.2,-0.05) (2008.48,-0.1) (2009.03,-0.03) (2009.87,0.02) (2010.71,0.0)
(2011.27,-0.03) (2011.83,-0.02) (2012.1,0.0) (2012.24,0.5) (2012.38,0.3) (2012.66,0.6)
(2013.22,0.55) (2013.64,0.5) (2014.06,0.35) (2014.48,0.45) (2015.18,0.55) (2015.6,0.65)
(2016.29,0.55) (2016.85,0.45) (2017.41,0.42) (2017.97,0.35) (2018.66,0.22)
};
\end{axis}
\end{scope}

\end{tikzpicture}
\end{document}
